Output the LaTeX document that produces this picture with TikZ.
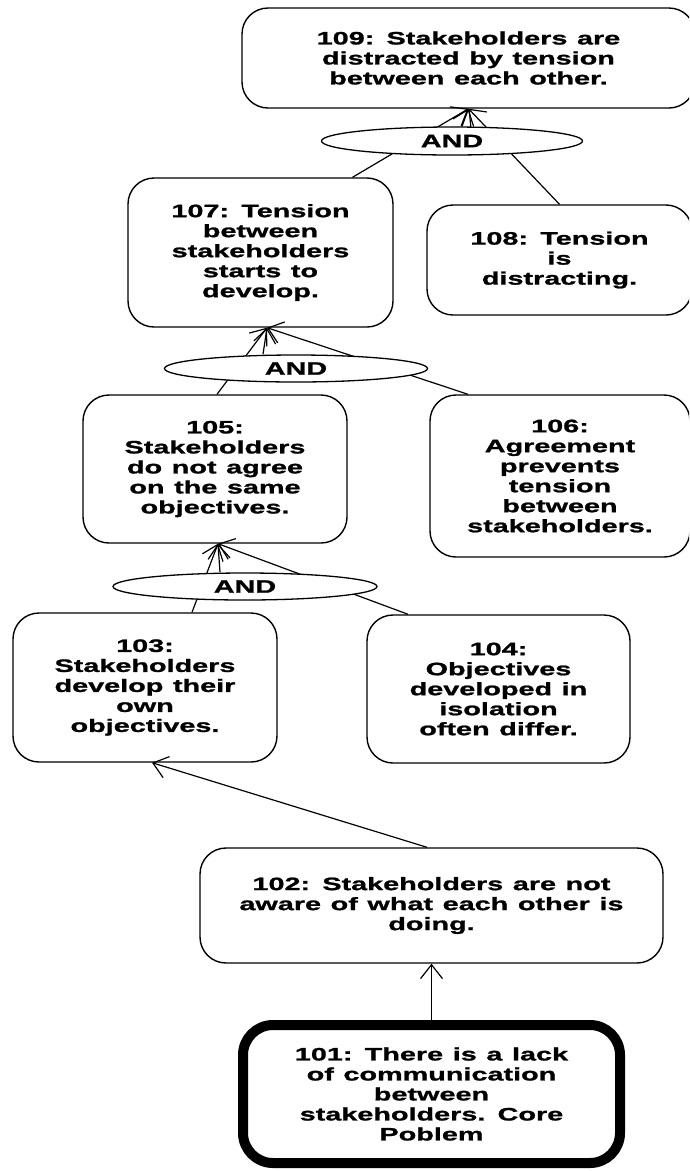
\documentclass[tikz,border=0pt]{standalone}
\usepackage{fontspec}
\usetikzlibrary{shapes.geometric,arrows.meta}
\newfontfamily\lbl{Liberation Sans Bold}[FakeStretch=1.6,WordSpace=1.2,FakeBold=1.2]

\tikzset{
  box/.style={draw, line width=1.4pt, rounded corners=26pt, align=center,
    inner sep=0pt, font=\lbl\fontsize{18}{20}\selectfont},
  core/.style={box, line width=10pt, rounded corners=30pt},
  gate/.style={draw, ellipse, fill=white, line width=1.3pt, inner sep=0pt,
    font=\lbl\fontsize{18}{20}\selectfont},
  cause/.style={line width=1.2pt, -{Straight Barb[length=14pt,width=22pt,line width=1.2pt]}}
}

\begin{document}
\begin{tikzpicture}[x=1pt,y=-1pt]
\useasboundingbox (0,0) rectangle (689,1171);
\fill[white] (0,0) rectangle (689,1171);
\clip (0,0) rectangle (689,1171);

% entity boxes
\node[box, minimum width=453pt, minimum height=100pt] (n109) at (468.5,58)
  {109: Stakeholders are\\distracted by tension\\between each other.};
\node[box, minimum width=265pt, minimum height=149pt] (n107) at (260.5,252.5)
  {107: Tension\\between\\stakeholders\\starts to\\develop.};
\node[box, minimum width=265pt, minimum height=110pt] (n108) at (559.5,260)
  {108: Tension\\is\\distracting.};
\node[box, minimum width=264pt, minimum height=148pt] (n105) at (215,469)
  {105:\\Stakeholders\\do not agree\\on the same\\objectives.};
\node[box, minimum width=260pt, minimum height=162pt] (n106) at (560,476)
  {106:\\Agreement\\prevents\\tension\\between\\stakeholders.};
\node[box, minimum width=264pt, minimum height=149pt] (n103) at (145,687.5)
  {103:\\Stakeholders\\develop their\\own\\objectives.};
\node[box, minimum width=263pt, minimum height=148pt] (n104) at (498.5,689)
  {104:\\Objectives\\developed in\\isolation\\often differ.};
\node[box, minimum width=463pt, minimum height=115pt] (n102) at (431.5,905.5)
  {102: Stakeholders are not\\aware of what each other is\\doing.};
\node[core, minimum width=377pt, minimum height=138pt] (n101) at (431.5,1094)
  {101: There is a lack\\of communication\\between\\stakeholders. Core\\Poblem};

% cause lines running through the AND gates
\draw[cause] ([xshift=92pt]n107.north) -- (n109.south);
\draw[cause] (n108.north) -- (n109.south);
\draw[cause] ([xshift=2pt]n105.north) -- ([xshift=6.5pt]n107.south);
\draw[cause] ([xshift=-92pt]n106.north) -- ([xshift=6.5pt]n107.south);
\draw[cause] ([xshift=47pt]n103.north) -- ([xshift=3pt]n105.south);
\draw[cause] ([xshift=-90.5pt]n104.north) -- ([xshift=3pt]n105.south);

% AND gates
\node[gate, minimum width=261pt, minimum height=28pt] (and1) at (452,141) {AND};
\node[gate, minimum width=263pt, minimum height=27pt] (and2) at (296,368.5) {AND};
\node[gate, minimum width=264pt, minimum height=27pt] (and3) at (245,586.5) {AND};

\draw[cause] ([xshift=10pt]and1.north) -- (n109.south);
\draw[cause] ([xshift=-33pt]and2.north) -- ([xshift=6.5pt]n107.south);
\draw[cause] ([xshift=-25pt]and3.north) -- ([xshift=3pt]n105.south);

% direct causes
\draw[cause] ([xshift=-4.5pt]n102.north) -- ([xshift=7pt]n103.south);
\draw[cause] (n101.north) -- (n102.south);
\end{tikzpicture}
\end{document}
